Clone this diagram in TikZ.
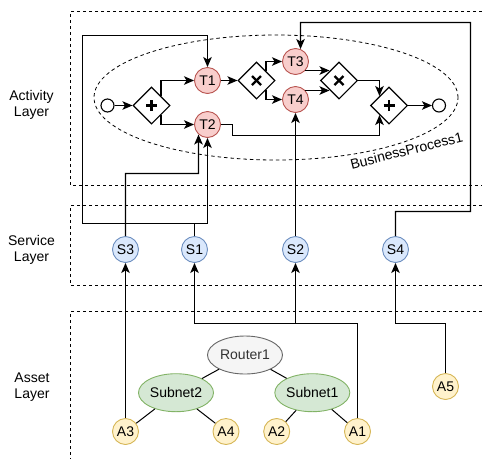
\documentclass[tikz,border=0pt]{standalone}
\usepackage{fontspec}
\setmainfont{Liberation Sans}
\usetikzlibrary{shapes.geometric,arrows.meta}
\definecolor{taskF}{HTML}{F8CECC}
\definecolor{taskS}{HTML}{B85450}
\definecolor{servF}{HTML}{DAE8FC}
\definecolor{servS}{HTML}{6C8EBF}
\definecolor{assetF}{HTML}{FFF2CC}
\definecolor{assetS}{HTML}{D6B656}
\definecolor{subF}{HTML}{D5E8D4}
\definecolor{subS}{HTML}{82B366}
\definecolor{rtF}{HTML}{F5F5F5}
\definecolor{rtS}{HTML}{666666}
\definecolor{rtT}{HTML}{333333}
\newcommand{\lblfont}{\fontsize{14}{16}\selectfont}
\tikzset{
  circnode/.style={circle, minimum size=26pt, inner sep=0pt, line width=0.9pt, font=\lblfont},
  task/.style={circnode, draw=taskS, fill=taskF},
  serv/.style={circnode, draw=servS, fill=servF},
  asset/.style={circnode, draw=assetS, fill=assetF},
  net/.style={ellipse, minimum width=75pt, minimum height=38pt, inner sep=0pt, line width=0.9pt, font=\lblfont},
  subnet/.style={net, draw=subS, fill=subF},
  router/.style={net, draw=rtS, fill=rtF, text=rtT},
  gw/.style={diamond, draw, fill=white, minimum width=37pt, minimum height=37pt, inner sep=0pt, line width=1.1pt},
  gplus/.style={gw, path picture={\draw[line width=2.2pt] ([xshift=-5.5pt]path picture bounding box.center) -- ([xshift=5.5pt]path picture bounding box.center);
     \draw[line width=2.2pt] ([yshift=-5.5pt]path picture bounding box.center) -- ([yshift=5.5pt]path picture bounding box.center);}},
  gx/.style={gw, path picture={\draw[line width=2.2pt] ([shift={(-4.5pt,-4.5pt)}]path picture bounding box.center) -- ([shift={(4.5pt,4.5pt)}]path picture bounding box.center);
     \draw[line width=2.2pt] ([shift={(-4.5pt,4.5pt)}]path picture bounding box.center) -- ([shift={(4.5pt,-4.5pt)}]path picture bounding box.center);}},
  evt/.style={circle, draw, fill=white, minimum size=13pt, inner sep=0pt, line width=1.1pt},
  arr/.style={-{Stealth[length=10pt,width=8.5pt,inset=2.5pt]}, line width=1.3pt},
  conn/.style={line width=1pt},
  layer/.style={dash pattern=on 3pt off 3pt, line width=0.9pt},
  lbl/.style={font=\lblfont, align=center, inner sep=0pt}
}
\begin{document}
\begin{tikzpicture}[x=1pt,y=-1pt]
\useasboundingbox (0,0) rectangle (482,459);
% layers
\draw[layer] (482,11.5) -- (70.5,11.5) -- (70.5,185.5) -- (482,185.5);
\draw[layer] (482,205.5) -- (70.5,205.5) -- (70.5,285.5) -- (482,285.5);
\draw[layer] (482,311.5) -- (70.5,311.5) -- (70.5,459);
\node[lbl] (la) at (31.5,105) {Activity\\Layer};
\node[lbl] (ls) at (31.5,249.5) {Service\\Layer};
\node[lbl] (lz) at (32,387) {Asset\\Layer};
% business process
\node[ellipse, draw, dash pattern=on 3.5pt off 3pt, line width=0.8pt, minimum width=364pt, minimum height=125pt, inner sep=0pt] (bp) at (276,97.5) {};
\node[font=\lblfont, rotate=14] (bpl) at (406.5,150.5) {BusinessProcess1};
\node[evt] (st) at (107.5,105.5) {};
\node[gplus] (g1) at (151.5,105.5) {};
\node[task] (t1) at (207.5,80.5) {T1};
\node[task] (t2) at (207.5,124.5) {T2};
\node[gx] (x1) at (256.5,80.5) {};
\node[task] (t3) at (295.5,61.5) {T3};
\node[task] (t4) at (295.5,99.5) {T4};
\node[gx] (x2) at (339,80.5) {};
\node[gplus] (g2) at (389,105.5) {};
\node[evt] (en) at (439,105.5) {};
\draw[arr] (st) -- (g1);
\draw[arr] (g1.north east) |- (t1);
\draw[arr] (g1.south east) |- (t2);
\draw[arr] (t1) -- (x1);
\draw[arr] (x1.north east) |- (t3);
\draw[arr] (x1.south east) |- (t4);
\draw[arr] (t3.-42 |- 0,70.5) -- (x2.north west |- 0,70.5);
\draw[arr] (t4.42 |- 0,90.5) -- (x2.south west |- 0,90.5);
\draw[arr] (x2.east) -| (g2.north west);
\coordinate (c1) at (232.5,135.5);
\draw[arr] (t2.east) -| (c1) -| (g2.south west);
\draw[arr] (g2) -- (en);
% service layer
\node[serv] (s3) at (125.5,249.5) {S3};
\node[serv] (s1) at (194.5,249.5) {S1};
\node[serv] (s2) at (295.5,249.5) {S2};
\node[serv] (s4) at (395.5,249.5) {S4};
% asset layer
\node[router] (r1) at (245,355) {Router1};
\node[subnet] (sn2) at (176,392.7) {Subnet2};
\node[subnet] (sn1) at (312.3,392.7) {Subnet1};
\node[asset] (a3) at (125.5,431.5) {A3};
\node[asset] (a4) at (226,431.5) {A4};
\node[asset] (a2) at (276.7,431.5) {A2};
\node[asset] (a1) at (357.5,431.5) {A1};
\node[asset] (a5) at (445.5,386.5) {A5};
\draw[conn] (r1) -- (sn2);
\draw[conn] (r1) -- (sn1);
\draw[conn] (sn2) -- (a3);
\draw[conn] (sn2) -- (a4);
\draw[conn] (sn1) -- (a2);
\draw[conn] (sn1) -- (a1);
% service -> activity
\coordinate (k1) at (125.5,173.5);
\coordinate (k2) at (198.5,173.5);
\draw[arr] (s3) -- (k1) -- (k2) -- (t2.-132);
\coordinate (j1) at (194.5,223.5);
\coordinate (j2) at (207.5,223.5);
\coordinate (j3) at (82.5,223.5);
\coordinate (j4) at (82.5,35.5);
\coordinate (j5) at (207.5,35.5);
\draw[arr] (s1) -- (j1) -- (j2) -- (t2);
\draw[arr] (s1) -- (j1) -- (j3) -- (j4) -- (j5) -- (t1);
\draw[arr] (s2) -- (t4);
\coordinate (n1) at (395.5,211.5);
\coordinate (n2) at (470.5,211.5);
\coordinate (n3) at (470.5,22.5);
\coordinate (n4) at (300.5,22.5);
\draw[arr] (s4) -- (n1) -- (n2) -- (n3) -- (n4) -- (t3.68);
% asset -> service
\coordinate (m1) at (357.5,323.5);
\coordinate (m2) at (194.5,323.5);
\coordinate (m3) at (295.5,323.5);
\coordinate (m4) at (445.5,323.5);
\coordinate (m5) at (395.5,323.5);
\draw[arr] (a3) -- (s3);
\draw[arr] (a1) -- (m1) -- (m2) -- (s1);
\draw[arr] (a1) -- (m1) -- (m3) -- (s2);
\draw[arr] (a5) -- (m4) -- (m5) -- (s4);
\end{tikzpicture}
\end{document}
